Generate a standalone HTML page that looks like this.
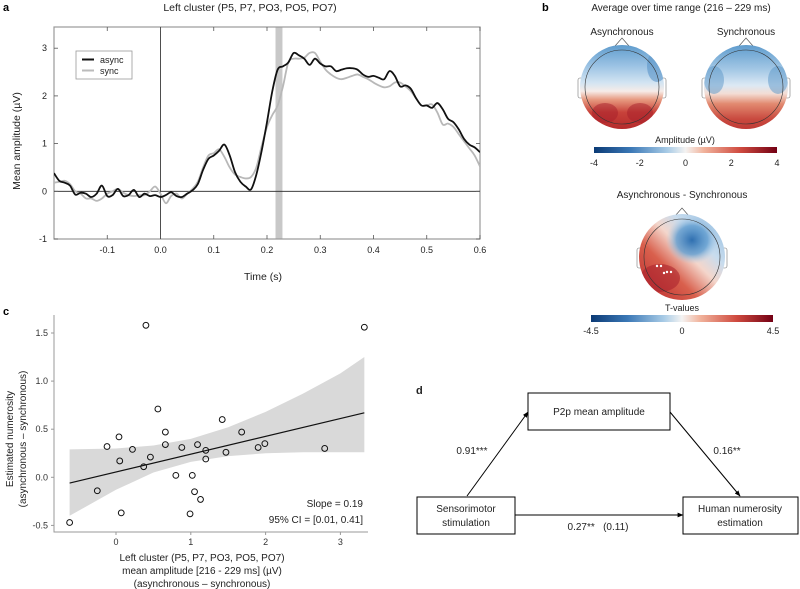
<!DOCTYPE html>
<html><head><meta charset="utf-8">
<style>
html,body{margin:0;padding:0;background:#fff;}
svg{display:block;font-family:"Liberation Sans",Arial,sans-serif;}
</style></head>
<body>
<svg id="fig" width="800" height="589" viewBox="0 0 800 589">
<defs>
  <linearGradient id="topoA" x1="0" y1="0" x2="0" y2="1">
    <stop offset="0" stop-color="#5f9ccd"/><stop offset="0.25" stop-color="#9cc3e4"/>
    <stop offset="0.45" stop-color="#d3e4f2"/><stop offset="0.55" stop-color="#f6ece8"/>
    <stop offset="0.65" stop-color="#e79a80"/><stop offset="0.8" stop-color="#c8423a"/>
    <stop offset="1" stop-color="#b52a2c"/></linearGradient>
  <linearGradient id="topoS" x1="0" y1="0" x2="0" y2="1">
    <stop offset="0" stop-color="#5f9ccd"/><stop offset="0.3" stop-color="#a6c9e6"/>
    <stop offset="0.48" stop-color="#dce9f4"/><stop offset="0.58" stop-color="#f3ddd4"/>
    <stop offset="0.7" stop-color="#e28a70"/><stop offset="0.88" stop-color="#c94a3f"/>
    <stop offset="1" stop-color="#c03a36"/></linearGradient>
  <linearGradient id="topoD" x1="0" y1="1" x2="1" y2="0">
    <stop offset="0" stop-color="#b7262b"/><stop offset="0.35" stop-color="#d9604d"/>
    <stop offset="0.55" stop-color="#f4d6cb"/><stop offset="0.7" stop-color="#c8dcee"/>
    <stop offset="1" stop-color="#8db9de"/></linearGradient>
  <radialGradient id="blobD" cx="0.5" cy="0.5" r="0.5">
    <stop offset="0" stop-color="#2f6fb0"/><stop offset="0.6" stop-color="#5d9bcf" stop-opacity="0.8"/>
    <stop offset="1" stop-color="#a9cbe7" stop-opacity="0"/></radialGradient>
  <linearGradient id="cbar" x1="0" y1="0" x2="1" y2="0">
    <stop offset="0" stop-color="#0b3a75"/><stop offset="0.2" stop-color="#3b78b6"/>
    <stop offset="0.4" stop-color="#a8cbe6"/><stop offset="0.5" stop-color="#f4f3f2"/>
    <stop offset="0.6" stop-color="#f1b39c"/><stop offset="0.8" stop-color="#cf4a3f"/>
    <stop offset="1" stop-color="#730014"/></linearGradient>
  <clipPath id="clipA"><rect x="54" y="27" width="426" height="212"/></clipPath>
  <clipPath id="h1"><circle cx="622" cy="87" r="42"/></clipPath>
  <clipPath id="h2"><circle cx="746" cy="87" r="42"/></clipPath>
  <clipPath id="h3"><circle cx="682" cy="257" r="43"/></clipPath>
  <marker id="arr" viewBox="0 0 10 10" refX="9" refY="5" markerWidth="6" markerHeight="6" orient="auto"><path d="M0,1 L10,5 L0,9 z" fill="#000"/></marker>
</defs>

<!-- Panel a -->
<g id="panelA">
  <text x="3" y="11" font-size="11" font-weight="bold">a</text>
  <text x="250" y="11" font-size="10.5" text-anchor="middle" fill="#222">Left cluster (P5, P7, PO3, PO5, PO7)</text>
  <rect x="214.5" y="27" width="6.9" height="212" fill="#c8c8c8" id="bandA"/>
  <g id="axA"></g>
  <text transform="translate(20,141) rotate(-90)" font-size="10.5" text-anchor="middle" fill="#222">Mean amplitude (µV)</text>
  <text x="263" y="280" font-size="10.5" text-anchor="middle" fill="#222">Time (s)</text>
  <g id="linesA" clip-path="url(#clipA)"></g>
  <rect x="76" y="51" width="56" height="28" fill="#fff" stroke="#999" stroke-width="0.8"/>
  <line x1="82" y1="59.5" x2="94" y2="59.5" stroke="#111" stroke-width="2"/>
  <text x="100" y="63" font-size="9" fill="#222">async</text>
  <line x1="82" y1="70.5" x2="94" y2="70.5" stroke="#bbb" stroke-width="2"/>
  <text x="100" y="74" font-size="9" fill="#222">sync</text>
</g>

<!-- Panel b -->
<g id="panelB">
  <text x="542" y="11" font-size="11" font-weight="bold">b</text>
  <text x="681" y="11" font-size="10" text-anchor="middle" fill="#222">Average over time range (216 – 229 ms)</text>
  <text x="622" y="35" font-size="10" text-anchor="middle" fill="#222">Asynchronous</text>
  <text x="746" y="35" font-size="10" text-anchor="middle" fill="#222">Synchronous</text>
  <g>
    <path d="M615,46 L622,38 L629,46" fill="#fff" stroke="#555" stroke-width="0.7"/>
    <rect x="578" y="78" width="5" height="20" rx="2" fill="#fff" stroke="#777" stroke-width="0.6"/>
    <rect x="661" y="78" width="5" height="20" rx="2" fill="#fff" stroke="#777" stroke-width="0.6"/>
    <circle cx="622" cy="87" r="42" fill="url(#topoA)"/>
    <g clip-path="url(#h1)"><ellipse cx="657" cy="66" rx="10" ry="16" fill="#5a95c8" opacity="0.6"/><ellipse cx="605" cy="113" rx="13" ry="10" fill="#a51d2a" opacity="0.5"/><ellipse cx="640" cy="113" rx="13" ry="10" fill="#a51d2a" opacity="0.5"/></g>
    <circle cx="622" cy="87" r="37" fill="none" stroke="#333" stroke-width="0.6"/>
  </g>
  <g>
    <path d="M739,46 L746,38 L753,46" fill="#fff" stroke="#555" stroke-width="0.7"/>
    <rect x="702" y="78" width="5" height="20" rx="2" fill="#fff" stroke="#777" stroke-width="0.6"/>
    <rect x="785" y="78" width="5" height="20" rx="2" fill="#fff" stroke="#777" stroke-width="0.6"/>
    <circle cx="746" cy="87" r="42" fill="url(#topoS)"/>
    <g clip-path="url(#h2)"><ellipse cx="714" cy="80" rx="10" ry="14" fill="#5a95c8" opacity="0.5"/><ellipse cx="778" cy="80" rx="10" ry="14" fill="#5a95c8" opacity="0.5"/></g>
    <circle cx="746" cy="87" r="37" fill="none" stroke="#333" stroke-width="0.6"/>
  </g>
  <text x="685" y="143" font-size="9" text-anchor="middle" fill="#222">Amplitude (µV)</text>
  <rect x="594" y="147" width="183" height="6" fill="url(#cbar)"/>
  <g id="cbar1Ticks" font-size="9" fill="#222" text-anchor="middle"></g>
  <text x="682" y="198" font-size="10" text-anchor="middle" fill="#222">Asynchronous - Synchronous</text>
  <g>
    <path d="M675,216 L682,208 L689,216" fill="#fff" stroke="#555" stroke-width="0.7"/>
    <rect x="637" y="248" width="5" height="20" rx="2" fill="#fff" stroke="#777" stroke-width="0.6"/>
    <rect x="722" y="248" width="5" height="20" rx="2" fill="#fff" stroke="#777" stroke-width="0.6"/>
    <circle cx="682" cy="257" r="43" fill="url(#topoD)"/>
    <g clip-path="url(#h3)"><ellipse cx="692" cy="240" rx="26" ry="24" fill="url(#blobD)"/><ellipse cx="660" cy="278" rx="20" ry="14" fill="#a81f2b" opacity="0.55"/></g>
    <circle cx="682" cy="257" r="38" fill="none" stroke="#333" stroke-width="0.6"/>
    <g fill="#fff"><circle cx="657" cy="266" r="1.2"/><circle cx="661" cy="266" r="1.2"/><circle cx="664" cy="273" r="1.2"/><circle cx="667" cy="272" r="1.2"/><circle cx="671" cy="272" r="1.2"/></g>
  </g>
  <text x="682" y="311" font-size="9" text-anchor="middle" fill="#222">T-values</text>
  <rect x="591" y="315" width="182" height="7" fill="url(#cbar)"/>
  <g id="cbar2Ticks" font-size="9" fill="#222" text-anchor="middle"></g>
</g>

<!-- Panel c -->
<g id="panelC">
  <text x="3" y="315" font-size="11" font-weight="bold">c</text>
  <g id="scatC"></g>
  <text transform="translate(13,439) rotate(-90)" font-size="10" text-anchor="middle" fill="#222">Estimated numerosity</text>
  <text transform="translate(26,439) rotate(-90)" font-size="10" text-anchor="middle" fill="#222">(asynchronous – synchronous)</text>
  <text x="202" y="561" font-size="10" text-anchor="middle" fill="#222">Left cluster (P5, P7, PO3, PO5, PO7)</text>
  <text x="202" y="574" font-size="10" text-anchor="middle" fill="#222">mean amplitude  [216 - 229 ms] (µV)</text>
  <text x="202" y="587" font-size="10" text-anchor="middle" fill="#222">(asynchronous – synchronous)</text>
  <text x="363" y="507" font-size="10" text-anchor="end" fill="#222">Slope = 0.19</text>
  <text x="363" y="523" font-size="10" text-anchor="end" fill="#222">95% CI = [0.01, 0.41]</text>
</g>

<!-- Panel d -->
<g id="panelD" font-size="10" fill="#222">
  <text x="416" y="394" font-size="11" font-weight="bold">d</text>
  <rect x="528" y="393" width="142" height="37" fill="#fff" stroke="#000" stroke-width="1"/>
  <text x="599" y="415" text-anchor="middle">P2p mean amplitude</text>
  <rect x="417" y="497" width="98" height="37" fill="#fff" stroke="#000" stroke-width="1"/>
  <text x="466" y="512" text-anchor="middle">Sensorimotor</text>
  <text x="466" y="526" text-anchor="middle">stimulation</text>
  <rect x="683" y="497" width="115" height="37" fill="#fff" stroke="#000" stroke-width="1"/>
  <text x="740" y="512" text-anchor="middle">Human numerosity</text>
  <text x="740" y="526" text-anchor="middle">estimation</text>
  <line x1="467" y1="496" x2="528" y2="412" stroke="#000" stroke-width="1" marker-end="url(#arr)"/>
  <line x1="670" y1="412" x2="740" y2="496" stroke="#000" stroke-width="1" marker-end="url(#arr)"/>
  <line x1="515" y1="515" x2="683" y2="515" stroke="#000" stroke-width="1" marker-end="url(#arr)"/>
  <text x="472" y="454" text-anchor="middle">0.91***</text>
  <text x="727" y="454" text-anchor="middle">0.16**</text>
  <text x="598" y="530" text-anchor="middle" xml:space="preserve">0.27**   (0.11)</text>
</g>
</svg>

<script>
// ---- Panel a data ----
const timeS = [-0.20,-0.19,-0.18,-0.17,-0.16,-0.15,-0.14,-0.13,-0.12,-0.11,-0.10,-0.09,-0.08,-0.07,-0.06,-0.05,-0.04,-0.03,-0.02,-0.01,0.00,0.01,0.02,0.03,0.04,0.05,0.06,0.07,0.08,0.09,0.10,0.11,0.12,0.13,0.14,0.15,0.16,0.17,0.18,0.19,0.20,0.21,0.22,0.23,0.24,0.25,0.26,0.27,0.28,0.29,0.30,0.31,0.32,0.33,0.34,0.35,0.36,0.37,0.38,0.39,0.40,0.41,0.42,0.43,0.44,0.45,0.46,0.47,0.48,0.49,0.50,0.51,0.52,0.53,0.54,0.55,0.56,0.57,0.58,0.59,0.60];
const asyncAmp = [0.38,0.22,0.18,0.12,-0.07,-0.03,-0.05,-0.12,-0.05,0.12,-0.1,-0.08,0.05,-0.1,-0.08,0.03,-0.12,-0.05,-0.1,-0.08,-0.12,-0.08,-0.02,-0.1,-0.12,-0.05,0.02,0.15,0.45,0.68,0.75,0.85,0.98,0.75,0.4,0.2,0.1,0.04,0.35,0.85,1.45,2.1,2.55,2.62,2.7,2.9,2.85,2.78,2.65,2.78,2.68,2.62,2.62,2.52,2.55,2.58,2.58,2.55,2.45,2.4,2.42,2.38,2.35,2.52,2.42,2.2,2.22,2.15,1.95,1.8,1.8,1.75,1.85,1.72,1.52,1.45,1.3,1.1,0.98,0.92,0.82];
const syncAmp = [0.18,0.2,0.22,0.15,0.0,-0.05,-0.15,-0.15,-0.2,-0.15,-0.05,0.0,0.05,-0.03,-0.08,-0.1,-0.08,-0.08,0.0,0.1,-0.05,-0.25,-0.1,-0.05,-0.15,-0.05,0.05,0.2,0.5,0.75,0.8,0.88,0.72,0.5,0.35,0.3,0.27,0.3,0.5,0.95,1.35,1.6,1.8,2.2,2.7,2.78,2.78,2.8,2.9,2.9,2.72,2.55,2.45,2.38,2.35,2.38,2.42,2.45,2.4,2.35,2.28,2.22,2.18,2.2,2.28,2.28,2.2,2.1,1.95,1.8,1.8,1.82,1.65,1.4,1.42,1.35,1.2,1.05,0.9,0.75,0.52];
const xTicksA = [-0.1,0.0,0.1,0.2,0.3,0.4,0.5,0.6];
const xTickLabelsA = ["-0.1","0.0","0.1","0.2","0.3","0.4","0.5","0.6"];
const yTicksA = [-1,0,1,2,3];
const windowMs = [0.216,0.229];

// ---- Panel b colorbars ----
const cbar1Ticks = [-4,-2,0,2,4];
const cbar2Ticks = [-4.5,0,4.5];

// ---- Panel c data ----
const diffAmp = [0.40,3.32,0.56,1.42,0.66,1.68,0.04,-0.12,0.66,0.88,1.09,1.20,1.90,1.99,2.79,0.22,0.46,1.47,0.05,1.20,0.37,0.80,1.02,1.05,-0.25,1.13,0.07,0.99,-0.62];
const diffNum = [1.58,1.56,0.71,0.60,0.47,0.47,0.42,0.32,0.34,0.31,0.34,0.28,0.31,0.35,0.30,0.29,0.21,0.26,0.17,0.19,0.11,0.02,0.02,-0.15,-0.14,-0.23,-0.37,-0.38,-0.47];
const fitX = [-0.62,3.32];
const fitY = [-0.06,0.67];
const bandX = [-0.62,0,0.5,1.0,1.5,2.0,2.5,3.0,3.32];
const bandHi = [0.29,0.30,0.33,0.40,0.52,0.68,0.87,1.08,1.25];
const bandLo = [-0.40,-0.13,0.05,0.16,0.22,0.25,0.26,0.26,0.26];
const xTicksC = [0,1,2,3];
const yTicksC = [-0.5,0.0,0.5,1.0,1.5];
const yTickLabelsC = ["-0.5","0.0","0.5","1.0","1.5"];

const NS = "http://www.w3.org/2000/svg";
function mk(tag, attrs, parent){const e=document.createElementNS(NS,tag);for(const k in attrs)e.setAttribute(k,attrs[k]);parent.appendChild(e);return e;}

// axes A
const xA = t => 54 + (t + 0.2) / 0.8 * 426;
const yA = v => 191.3 - v * 47.7;
const axA = document.getElementById('axA');
document.getElementById('bandA').setAttribute('x', xA(windowMs[0]));
document.getElementById('bandA').setAttribute('width', xA(windowMs[1]) - xA(windowMs[0]));
const frame = mk('rect',{x:54,y:27,width:426,height:212,fill:'none',stroke:'#999','stroke-width':1.2},axA);


const zl = mk('line',{x1:54,x2:480,y1:yA(0),y2:yA(0),stroke:'#222','stroke-width':0.8},axA);


const ol = mk('line',{x1:xA(0),x2:xA(0),y1:27,y2:239,stroke:'#222','stroke-width':0.8},axA);


xTicksA.forEach((t,i)=>{
  const x=xA(t);
  mk('line',{x1:x,x2:x,y1:239,y2:235,stroke:'#555','stroke-width':0.8},axA);
  mk('line',{x1:x,x2:x,y1:27,y2:31,stroke:'#555','stroke-width':0.8},axA);
  const tx=mk('text',{x:x,y:253,'font-size':9,'text-anchor':'middle',fill:'#222'},axA);
  tx.textContent=xTickLabelsA[i];
  
  
});
yTicksA.forEach(v=>{
  const y=yA(v);
  mk('line',{x1:54,x2:58,y1:y,y2:y,stroke:'#555','stroke-width':0.8},axA);
  mk('line',{x1:480,x2:476,y1:y,y2:y,stroke:'#555','stroke-width':0.8},axA);
  const tx=mk('text',{x:47,y:y+3,'font-size':9,'text-anchor':'end',fill:'#222'},axA);
  tx.textContent=String(v);
  
  
});
function smoothPath(xs, ys){
  const p = xs.map((t,i)=>[xA(t),yA(ys[i])]);
  let d = `M${p[0][0]},${p[0][1]}`;
  for(let i=0;i<p.length-1;i++){
    const p0=p[Math.max(0,i-1)],p1=p[i],p2=p[i+1],p3=p[Math.min(p.length-1,i+2)];
    const c1=[p1[0]+(p2[0]-p0[0])/6,p1[1]+(p2[1]-p0[1])/6];
    const c2=[p2[0]-(p3[0]-p1[0])/6,p2[1]-(p3[1]-p1[1])/6];
    d+=` C${c1[0]},${c1[1]} ${c2[0]},${c2[1]} ${p2[0]},${p2[1]}`;
  }
  return d;
}
const linesA=document.getElementById('linesA');
const ls = mk('path',{d:smoothPath(timeS,syncAmp),fill:'none',stroke:'#b8b8b8','stroke-width':1.8},linesA);


const la = mk('path',{d:smoothPath(timeS,asyncAmp),fill:'none',stroke:'#111','stroke-width':1.8},linesA);



// colorbar ticks
const cb1=document.getElementById('cbar1Ticks');
cbar1Ticks.forEach(v=>{
  const t=mk('text',{x:594+(v+4)/8*183,y:166},cb1);
  t.textContent=String(v);
  
  
});
const cb2=document.getElementById('cbar2Ticks');
cbar2Ticks.forEach(v=>{
  const t=mk('text',{x:591+(v+4.5)/9*182,y:334},cb2);
  t.textContent=String(v);
  
  
});

// panel C
const xC = v => 116 + v * 74.8;
const yC = v => 477.3 - v * 96.2;
const sc=document.getElementById('scatC');
let bd='M'+bandX.map((x,i)=>`${xC(x)},${yC(bandHi[i])}`).join(' L');
for(let i=bandX.length-1;i>=0;i--) bd+=` L${xC(bandX[i])},${yC(bandLo[i])}`;
const band=mk('path',{d:bd+' Z',fill:'#d9d9d9'},sc);


const ax=mk('path',{d:'M54,315 L54,532 L368,532',fill:'none',stroke:'#999','stroke-width':1},sc);


xTicksC.forEach(v=>{
  mk('line',{x1:xC(v),x2:xC(v),y1:532,y2:535,stroke:'#999'},sc);
  const t=mk('text',{x:xC(v),y:545,'font-size':9,'text-anchor':'middle',fill:'#333'},sc);
  t.textContent=String(v);
  
  
});
yTicksC.forEach((v,i)=>{
  mk('line',{x1:51,x2:54,y1:yC(v),y2:yC(v),stroke:'#999'},sc);
  const t=mk('text',{x:48,y:yC(v)+3,'font-size':9,'text-anchor':'end',fill:'#333'},sc);
  t.textContent=yTickLabelsC[i];
  
  
});
const fl=mk('line',{x1:xC(fitX[0]),y1:yC(fitY[0]),x2:xC(fitX[1]),y2:yC(fitY[1]),stroke:'#111','stroke-width':1.2},sc);


diffAmp.forEach((x,i)=>{
  const c=mk('circle',{cx:xC(x),cy:yC(diffNum[i]),r:2.9,fill:'none',stroke:'#111','stroke-width':1},sc);
  
  
});
</script>
</body></html>
